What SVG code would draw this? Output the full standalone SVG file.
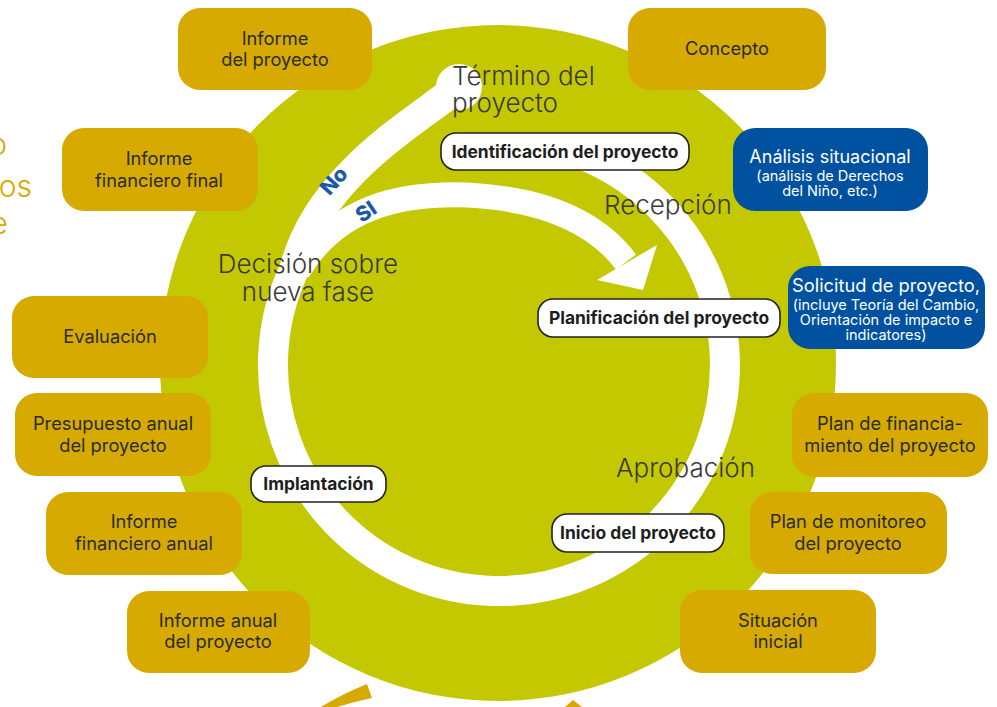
<svg xmlns="http://www.w3.org/2000/svg" width="997" height="707" viewBox="0 0 997 707">
<style>
.box{fill:#D6AA00}
.blue{fill:#0052A1}
.pill{fill:#ffffff;stroke:#222222;stroke-width:1.6}
.t{font-family:Inter,"Liberation Sans",sans-serif;font-size:18.3px;fill:#2b2b2b;text-anchor:middle}
.tw{font-family:Inter,"Liberation Sans",sans-serif;fill:#ffffff;text-anchor:middle}
.tb{font-family:Inter,"Liberation Sans",sans-serif;font-size:17.4px;font-weight:700;fill:#1e1e1e;text-anchor:middle}
.phase{font-family:Inter,"Liberation Sans",sans-serif;font-size:26px;font-weight:300;fill:#3a3a3a}
.band{fill:none;stroke:#ffffff}
.dec{font-family:Inter,"Liberation Sans",sans-serif;font-size:21px;font-weight:800;fill:#1A5AA8;text-anchor:middle}
</style>
<rect width="997" height="707" fill="#ffffff"/>
<g id="side-text" font-family="Inter, 'Liberation Sans', sans-serif" font-size="30" font-weight="300" fill="#D6AA00" text-anchor="end">
<text x="7" y="155">o</text>
<text x="32" y="197">os</text>
<text x="8" y="234">e</text>
</g>
<g id="bottom-fragments" fill="#D6AA00">
<path d="M321,707 Q342,694 367,684 L372,698 Q353,702 337,707 Z"/>
<polygon points="565,707 573,700 582,707"/>
</g>
<g id="disc">
<circle cx="498" cy="363" r="338" fill="#C4C800"/>
</g>
<g id="connectors">
<path class="band" stroke-width="30" d="M568.8,150.1 A226,226 0 1 1 297.6,262.4"/>
<path class="band" stroke-width="30" d="M294.2,269.5 C317,180 405,128 452,92"/>
<circle cx="459" cy="87" r="23" fill="#ffffff"/>
<path class="band" stroke-width="25" d="M297.8,271.2 C336.4,206.4 400,193 467,195 C527,198 590,214 626,262"/>
<polygon points="657,245 643,290 597,280" fill="#ffffff"/>
<text class="dec" transform="translate(334,181) rotate(-48)" y="7">No</text>
<text class="dec" transform="translate(366,212) rotate(-34)" y="7">SI</text>
</g>
<g id="phase-labels">
<text class="phase" x="452" y="85">Término del</text>
<text class="phase" x="452" y="112">proyecto</text>
<text class="phase" x="604" y="214">Recepción</text>
<text class="phase" x="308" y="273" text-anchor="middle">Decisión sobre</text>
<text class="phase" x="308" y="301" text-anchor="middle">nueva fase</text>
<text class="phase" x="616" y="477">Aprobación</text>
</g>
<g id="identificacion">
<rect class="pill" x="441" y="133" width="248" height="37" rx="15"/>
<text class="tb" x="565" y="158">Identificación del proyecto</text>
</g>
<g id="planificacion">
<rect class="pill" x="538" y="299" width="242" height="38" rx="15"/>
<text class="tb" x="659" y="324">Planificación del proyecto</text>
</g>
<g id="inicio">
<rect class="pill" x="552" y="514" width="172" height="38" rx="15"/>
<text class="tb" x="638" y="539">Inicio del proyecto</text>
</g>
<g id="implantacion">
<rect class="pill" x="251" y="466" width="135" height="36" rx="15"/>
<text class="tb" x="318.5" y="490">Implantación</text>
</g>
<g id="informe-proyecto">
<rect class="box" x="178" y="8" width="194" height="82" rx="22"/>
<text class="t" x="275" y="45">Informe</text>
<text class="t" x="275" y="66">del proyecto</text>
</g>
<g id="concepto">
<rect class="box" x="628" y="8" width="198" height="82" rx="22"/>
<text class="t" x="727" y="55">Concepto</text>
</g>
<g id="informe-financiero-final">
<rect class="box" x="62" y="128" width="196" height="83" rx="22"/>
<text class="t" x="159" y="165">Informe</text>
<text class="t" x="159" y="187">financiero final</text>
</g>
<g id="analisis-situacional">
<rect class="blue" x="733" y="128" width="195" height="83" rx="22"/>
<text class="tw" x="830" y="163" font-size="18">Análisis situacional</text>
<text class="tw" x="830" y="181" font-size="14.5">(análisis de Derechos</text>
<text class="tw" x="830" y="196" font-size="14.5">del Niño, etc.)</text>
</g>
<g id="solicitud-proyecto">
<rect class="blue" x="788" y="266" width="197" height="83" rx="22"/>
<text class="tw" x="886" y="292" font-size="18.3">Solicitud de proyecto,</text>
<text class="tw" x="886" y="310" font-size="14.5">(incluye Teoría del Cambio,</text>
<text class="tw" x="886" y="325" font-size="14.5">Orientación de impacto e</text>
<text class="tw" x="886" y="340" font-size="14.5">indicatores)</text>
</g>
<g id="evaluacion">
<rect class="box" x="12" y="296" width="196" height="82" rx="22"/>
<text class="t" x="110" y="343">Evaluación</text>
</g>
<g id="presupuesto-anual">
<rect class="box" x="15" y="393" width="196" height="83" rx="22"/>
<text class="t" x="113" y="430">Presupuesto anual</text>
<text class="t" x="113" y="452">del proyecto</text>
</g>
<g id="plan-financiamiento">
<rect class="box" x="792" y="393" width="196" height="84" rx="22"/>
<text class="t" x="890" y="430">Plan de financia-</text>
<text class="t" x="890" y="452">miento del proyecto</text>
</g>
<g id="informe-financiero-anual">
<rect class="box" x="46" y="492" width="196" height="83" rx="22"/>
<text class="t" x="144" y="528">Informe</text>
<text class="t" x="144" y="550">financiero anual</text>
</g>
<g id="plan-monitoreo">
<rect class="box" x="750" y="492" width="197" height="82" rx="22"/>
<text class="t" x="848" y="528">Plan de monitoreo</text>
<text class="t" x="848" y="550">del proyecto</text>
</g>
<g id="informe-anual">
<rect class="box" x="127" y="591" width="183" height="82" rx="22"/>
<text class="t" x="218" y="627">Informe anual</text>
<text class="t" x="218" y="648">del proyecto</text>
</g>
<g id="situacion-inicial">
<rect class="box" x="680" y="590" width="196" height="83" rx="22"/>
<text class="t" x="778" y="627">Situación</text>
<text class="t" x="778" y="648">inicial</text>
</g>
</svg>
